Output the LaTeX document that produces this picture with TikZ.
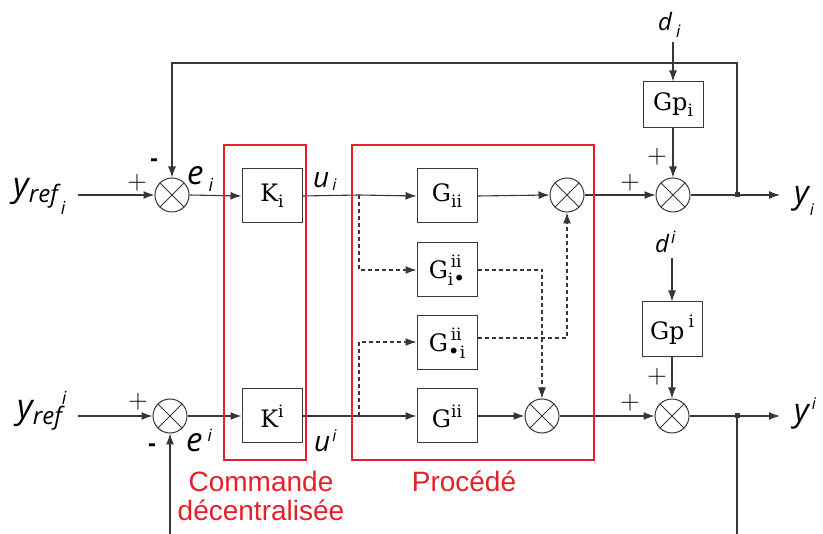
\documentclass[tikz,border=0pt]{standalone}
\usepackage{fontspec}
\newfontfamily\Vf{Open Sans}
\newfontfamily\Rf{Liberation Sans}
\newfontfamily\Bf{DejaVu Serif}
\usetikzlibrary{arrows.meta}
\definecolor{ln}{RGB}{55,55,55}
\definecolor{rd}{RGB}{230,32,40}
\newcommand{\sz}[1]{\fontsize{#1}{#1}\selectfont}
\newcommand{\bul}{{\sz{20}•}}
\tikzset{
  blk/.style={draw=ln, line width=1pt, minimum width=60pt, minimum height=54pt, inner sep=0pt, fill=white, font=\Bf\sz{24}},
  sumn/.style={draw=ln, circle, line width=1pt, minimum size=34pt, inner sep=0pt},
  conn/.style={draw=ln, line width=1.1pt},
  arr/.style={conn, -{Latex[length=11pt,width=8pt]}},
  dsh/.style={arr, dash pattern=on 4pt off 3pt},
  redbox/.style={draw=rd, line width=2.5pt},
  redtxt/.style={text=rd, font=\Rf\sz{28}, inner sep=0pt},
  plus/.style={font=\sz{27}, inner sep=0pt},
  minus/.style={font=\Rf\bfseries\sz{24}, inner sep=0pt},
  vlab/.style={anchor=base west, inner sep=0pt, font=\Vf\itshape},
  jdot/.style={fill=ln, rectangle, minimum size=5pt, inner sep=0pt},
}
\begin{document}
\begin{tikzpicture}[x=1pt,y=-1pt]
\useasboundingbox (0,0) rectangle (823,534);
% sums
\node[sumn] (s1) at (172,195) {};
\node[sumn] (s2) at (170,416) {};
\node[sumn] (s3) at (567,195) {};
\node[sumn] (s4) at (542,416) {};
\node[sumn] (s5) at (673,195) {};
\node[sumn] (s6) at (672,416) {};
\foreach \s in {s1,s2,s3,s4,s5,s6}{
  \draw[ln, line width=0.9pt] (\s.north east) -- (\s.south west);
  \draw[ln, line width=0.9pt] (\s.north west) -- (\s.south east);
}
% blocks
\node[blk] (Ki) at (272,196) {K\raisebox{-6pt}{\sz{17}i}};
\node[blk] (KI) at (272,416) {K\raisebox{10pt}{\sz{17}i}};
\node[blk] (Gii) at (447,196) {G\raisebox{-6pt}{\sz{17}ii}};
\node[blk] (Gid) at (447,270) {G\rlap{\raisebox{11pt}{\sz{17}\,ii}}\raisebox{-7pt}{\sz{17}i\bul}};
\node[blk] (Gdi) at (447,343) {G\rlap{\raisebox{11pt}{\sz{17}\,ii}}\raisebox{-7pt}{\sz{17}\bul i}};
\node[blk] (GII) at (447,416) {G\raisebox{10pt}{\sz{17}ii}};
\node[blk, minimum height=46pt] (Gpi) at (673,105) {Gp\raisebox{-6pt}{\sz{17}i}};
\node[blk, minimum height=55pt] (GpI) at (672,329.5) {Gp\,\raisebox{12pt}{\sz{17}i}};
% coordinates
\coordinate (yin1) at (78,195);
\coordinate (yin2) at (78,416);
\coordinate (j1) at (359,195);
\coordinate (j2) at (359,416);
\coordinate (o1) at (737,195);
\coordinate (o2) at (737,416);
\coordinate (e1) at (780,195);
\coordinate (e2) at (780,416);
\coordinate (top) at (0,63);
\coordinate (dst) at (673,42);
\coordinate (dst2) at (672,258);
\coordinate (fb2a) at (737,534);
\coordinate (fb2b) at (170,534);
% top row
\draw[arr] (yin1) -- (s1.west);
\draw[arr] (s1.east) -- (Ki.west);
\draw[conn] (Ki.east) -- (j1);
\draw[arr] (j1) -- (Gii.west);
\draw[arr] (Gii.east) -- (s3.west);
\draw[arr] (s3.east) -- (s5.west);
\draw[conn] (s5.east) -- (o1);
\draw[arr] (o1) -- (e1);
\draw[arr] (o1) -- (o1 |- top) -| (s1.north);
\draw[arr] (dst) -- (Gpi.north);
\draw[arr] (Gpi.south) -- (s5.north);
% bottom row
\draw[arr] (yin2) -- (s2.west);
\draw[arr] (s2.east) -- (KI.west);
\draw[conn] (KI.east) -- (j2);
\draw[arr] (j2) -- (GII.west);
\draw[arr] (GII.east) -- (s4.west);
\draw[arr] (s4.east) -- (s6.west);
\draw[conn] (s6.east) -- (o2);
\draw[arr] (o2) -- (e2);
\draw[conn] (o2) -- (fb2a);
\draw[arr] (fb2b) -- (s2.south);
\draw[arr] (dst2) -- (GpI.north);
\draw[arr] (GpI.south) -- (s6.north);
% dashed cross couplings
\draw[dsh] (j1) |- (Gid.west);
\draw[dsh] (Gid.east) -| (s4.north);
\draw[dsh] (j2) |- ([yshift=1pt]Gdi.west);
\draw[dsh] ([yshift=5pt]Gdi.east) -| (s3.south);
% junction dots
\node[jdot] at (o1) {};
\node[jdot] at (o2) {};
% red boxes
\draw[redbox] (224,145) rectangle (306,460);
\draw[redbox] (352,145) rectangle (594,460);
\node[redtxt] at (261,481) {Commande};
\node[redtxt] at (261,510) {décentralisée};
\node[redtxt] at (464,481) {Procédé};
% signs
\node[plus] at (137,183) {+};
\node[minus] at (154,163) {-};
\node[plus] at (138,402) {+};
\node[minus] at (152,448) {-};
\node[plus] at (630,183) {+};
\node[plus] at (657,157) {+};
\node[plus] at (630,403) {+};
\node[plus] at (657,377) {+};
% variable labels
\node[vlab] at (13,197) {\sz{34}y\raisebox{-6pt}{\sz{24}ref}\raisebox{-18pt}{\sz{18}\,i}};
\node[vlab] at (17,419) {\sz{34}y\raisebox{-6pt}{\sz{24}ref}\raisebox{14pt}{\sz{18}i}};
\node[vlab] at (187,185) {\sz{33}e\hspace{5pt}\raisebox{-7pt}{\sz{18}i}};
\node[vlab] at (186,452) {\sz{33}e\hspace{5pt}\raisebox{10pt}{\sz{17}i}};
\node[vlab] at (313,188) {\sz{28}u\hspace{3pt}\raisebox{-3pt}{\sz{16}i}};
\node[vlab] at (314,452) {\sz{28}u\hspace{2pt}\raisebox{10pt}{\sz{16}i}};
\node[vlab] at (658,31) {\sz{24}d\hspace{4pt}\raisebox{-7pt}{\sz{17}i}};
\node[vlab] at (655,253) {\sz{24}d\hspace{2pt}\raisebox{9pt}{\sz{17}i}};
\node[vlab] at (794,204) {\sz{32}y\hspace{1pt}\raisebox{-12pt}{\sz{16}i}};
\node[vlab] at (794,422) {\sz{32}y\hspace{3pt}\raisebox{12pt}{\sz{16}i}};
\end{tikzpicture}
\end{document}
